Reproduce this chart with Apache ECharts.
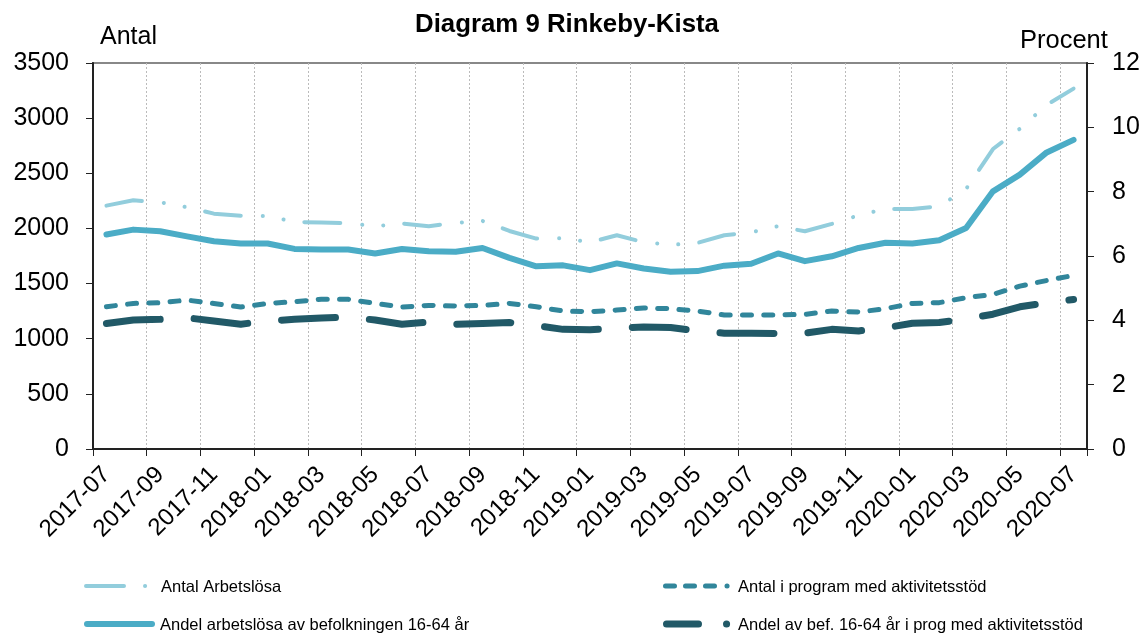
<!DOCTYPE html>
<html>
<head>
<meta charset="utf-8">
<script src="https://cdn.jsdelivr.net/npm/echarts@6/dist/echarts.min.js"></script>
<style>
html,body{margin:0;padding:0;background:#fff;}
#chart{width:1143px;height:633px;}
</style>
</head>
<body>
<div id="chart"></div>
<script>
const categories = ['2017-07','2017-08','2017-09','2017-10','2017-11','2017-12','2018-01','2018-02','2018-03','2018-04','2018-05','2018-06','2018-07','2018-08','2018-09','2018-10','2018-11','2018-12','2019-01','2019-02','2019-03','2019-04','2019-05','2019-06','2019-07','2019-08','2019-09','2019-10','2019-11','2019-12','2020-01','2020-02','2020-03','2020-04','2020-05','2020-06','2020-07'];

// Left axis (Antal)
const antalArbetslosa = [2207,2255,2237,2192,2134,2116,2113,2059,2053,2047,2020,2044,2020,2050,2068,1977,1908,1911,1875,1938,1875,1851,1869,1938,1965,2020,1974,2041,2119,2177,2177,2201,2358,2720,2904,3120,3268];
const antalProgram = [1290,1320,1327,1350,1320,1287,1320,1336,1357,1357,1320,1287,1302,1296,1302,1320,1290,1251,1245,1260,1278,1272,1251,1215,1215,1215,1221,1251,1242,1272,1320,1327,1372,1402,1477,1528,1574];

// Right axis (Procent)
const andelArbetslosa = [6.67,6.82,6.77,6.61,6.46,6.39,6.39,6.22,6.20,6.20,6.08,6.22,6.15,6.13,6.25,5.94,5.68,5.71,5.56,5.77,5.61,5.51,5.53,5.70,5.76,6.08,5.84,5.99,6.25,6.41,6.39,6.49,6.87,8.01,8.53,9.22,9.61];
const andelProgram = [3.90,4.01,4.03,4.08,3.98,3.88,3.98,4.03,4.07,4.10,4.01,3.88,3.95,3.88,3.90,3.93,3.84,3.72,3.71,3.76,3.79,3.78,3.67,3.60,3.60,3.59,3.60,3.72,3.67,3.77,3.91,3.93,4.05,4.19,4.42,4.55,4.65];

const seriesNames = ['Antal Arbetslösa','Andel arbetslösa av befolkningen 16-64 år','Antal i program med aktivitetsstöd','Andel av bef. 16-64 år i prog med aktivitetsstöd'];
const leftTicks = [0,500,1000,1500,2000,2500,3000,3500];
const rightTicks = [0,2,4,6,8,10,12];

const FONT = "'Liberation Sans', Arial, sans-serif";
const cLight = '#92cddc', cSolid = '#4bacc6', cMed = '#31869b', cDark = '#215967';

// legend drawn as graphic (icon + text)
function legendItem(x1, x2, y, color, width, dash, tx, text) {
  return [
    {type:'line', silent:true, shape:{x1:x1, y1:y, x2:x2, y2:y},
     style:{stroke:color, lineWidth:width, lineDash:dash, lineCap:'round'}},
    {type:'text', silent:true, x:tx, y:y + 1,
     style:{text:text, fill:'#000', font:'16.5px ' + FONT, textVerticalAlign:'middle', verticalAlign:'middle'}}
  ];
}
const legendGraphics = [].concat(
  legendItem(86, 155, 586, cLight, 4, [38,21,0.1,200], 161, seriesNames[0]),
  legendItem(87, 152, 624, cSolid, 6, null, 160, seriesNames[1]),
  legendItem(665.5, 733, 586, cMed, 5, [9,11,9,11,9,12.5,0.1,200], 738, seriesNames[2]),
  legendItem(666.5, 733, 624, cDark, 7, [32,28,0.1,200], 738, seriesNames[3])
);

const chart = echarts.init(document.getElementById('chart'), null, {renderer:'canvas'});
chart.setOption({
  animation:false,
  backgroundColor:'#fff',
  title:[
    {text:'Diagram 9 Rinkeby-Kista', left:415, top:12, padding:0, textStyle:{fontFamily:FONT,fontSize:25.8,fontWeight:'bold',color:'#000'}},
    {text:'Antal', left:100, top:25, padding:0, textStyle:{fontFamily:FONT,fontSize:25,fontWeight:'normal',color:'#000'}},
    {text:'Procent', left:1020, top:28, padding:0, textStyle:{fontFamily:FONT,fontSize:25.5,fontWeight:'normal',color:'#000'}}
  ],
  grid:{left:93, right:56, top:63, bottom:184, show:true, borderColor:'#888', borderWidth:2, containLabel:false},
  graphic:legendGraphics,
  xAxis:{
    type:'category', data:categories, boundaryGap:true,
    axisLine:{show:true, lineStyle:{color:'#222', width:2}},
    axisTick:{show:true, interval:1, length:7, lineStyle:{color:'#222', width:1}},
    axisLabel:{interval:1, rotate:45, margin:22, fontFamily:FONT, fontSize:24, color:'#000'},
    splitLine:{show:true, interval:1, lineStyle:{color:'#bbb', type:[2,2], width:1}}
  },
  yAxis:[
    {type:'value', min:leftTicks[0], max:leftTicks[leftTicks.length-1], interval:500, position:'left',
     axisLine:{show:true, lineStyle:{color:'#222', width:2}},
     axisTick:{show:true, length:7, lineStyle:{color:'#222', width:1}},
     axisLabel:{margin:24, fontFamily:FONT, fontSize:25, color:'#000', formatter:function(v){return String(v);}},
     splitLine:{show:false}},
    {type:'value', min:rightTicks[0], max:rightTicks[rightTicks.length-1], interval:2, position:'right',
     axisLine:{show:true, lineStyle:{color:'#222', width:2}},
     axisTick:{show:true, length:7, lineStyle:{color:'#222', width:1}},
     axisLabel:{margin:25, fontFamily:FONT, fontSize:25, color:'#000', formatter:function(v){return String(v);}},
     splitLine:{show:false}}
  ],
  series:[
    {name:seriesNames[0], type:'line', yAxisIndex:0, data:antalArbetslosa, symbol:'none', color:cLight,
     lineStyle:{color:cLight, width:4, type:[36,22,0.1,21,0.1,21], cap:'round', join:'round'}},
    {name:seriesNames[1], type:'line', yAxisIndex:1, data:andelArbetslosa, symbol:'none', color:cSolid,
     lineStyle:{color:cSolid, width:6, type:'solid', cap:'round', join:'round'}},
    {name:seriesNames[2], type:'line', yAxisIndex:0, data:antalProgram, symbol:'none', color:cMed,
     lineStyle:{color:cMed, width:5, type:[9,12.3], cap:'round', join:'round'}},
    {name:seriesNames[3], type:'line', yAxisIndex:1, data:andelProgram, symbol:'none', color:cDark,
     lineStyle:{color:cDark, width:7, type:[54,34], cap:'round', join:'round'}}
  ]
});
</script>
</body>
</html>
